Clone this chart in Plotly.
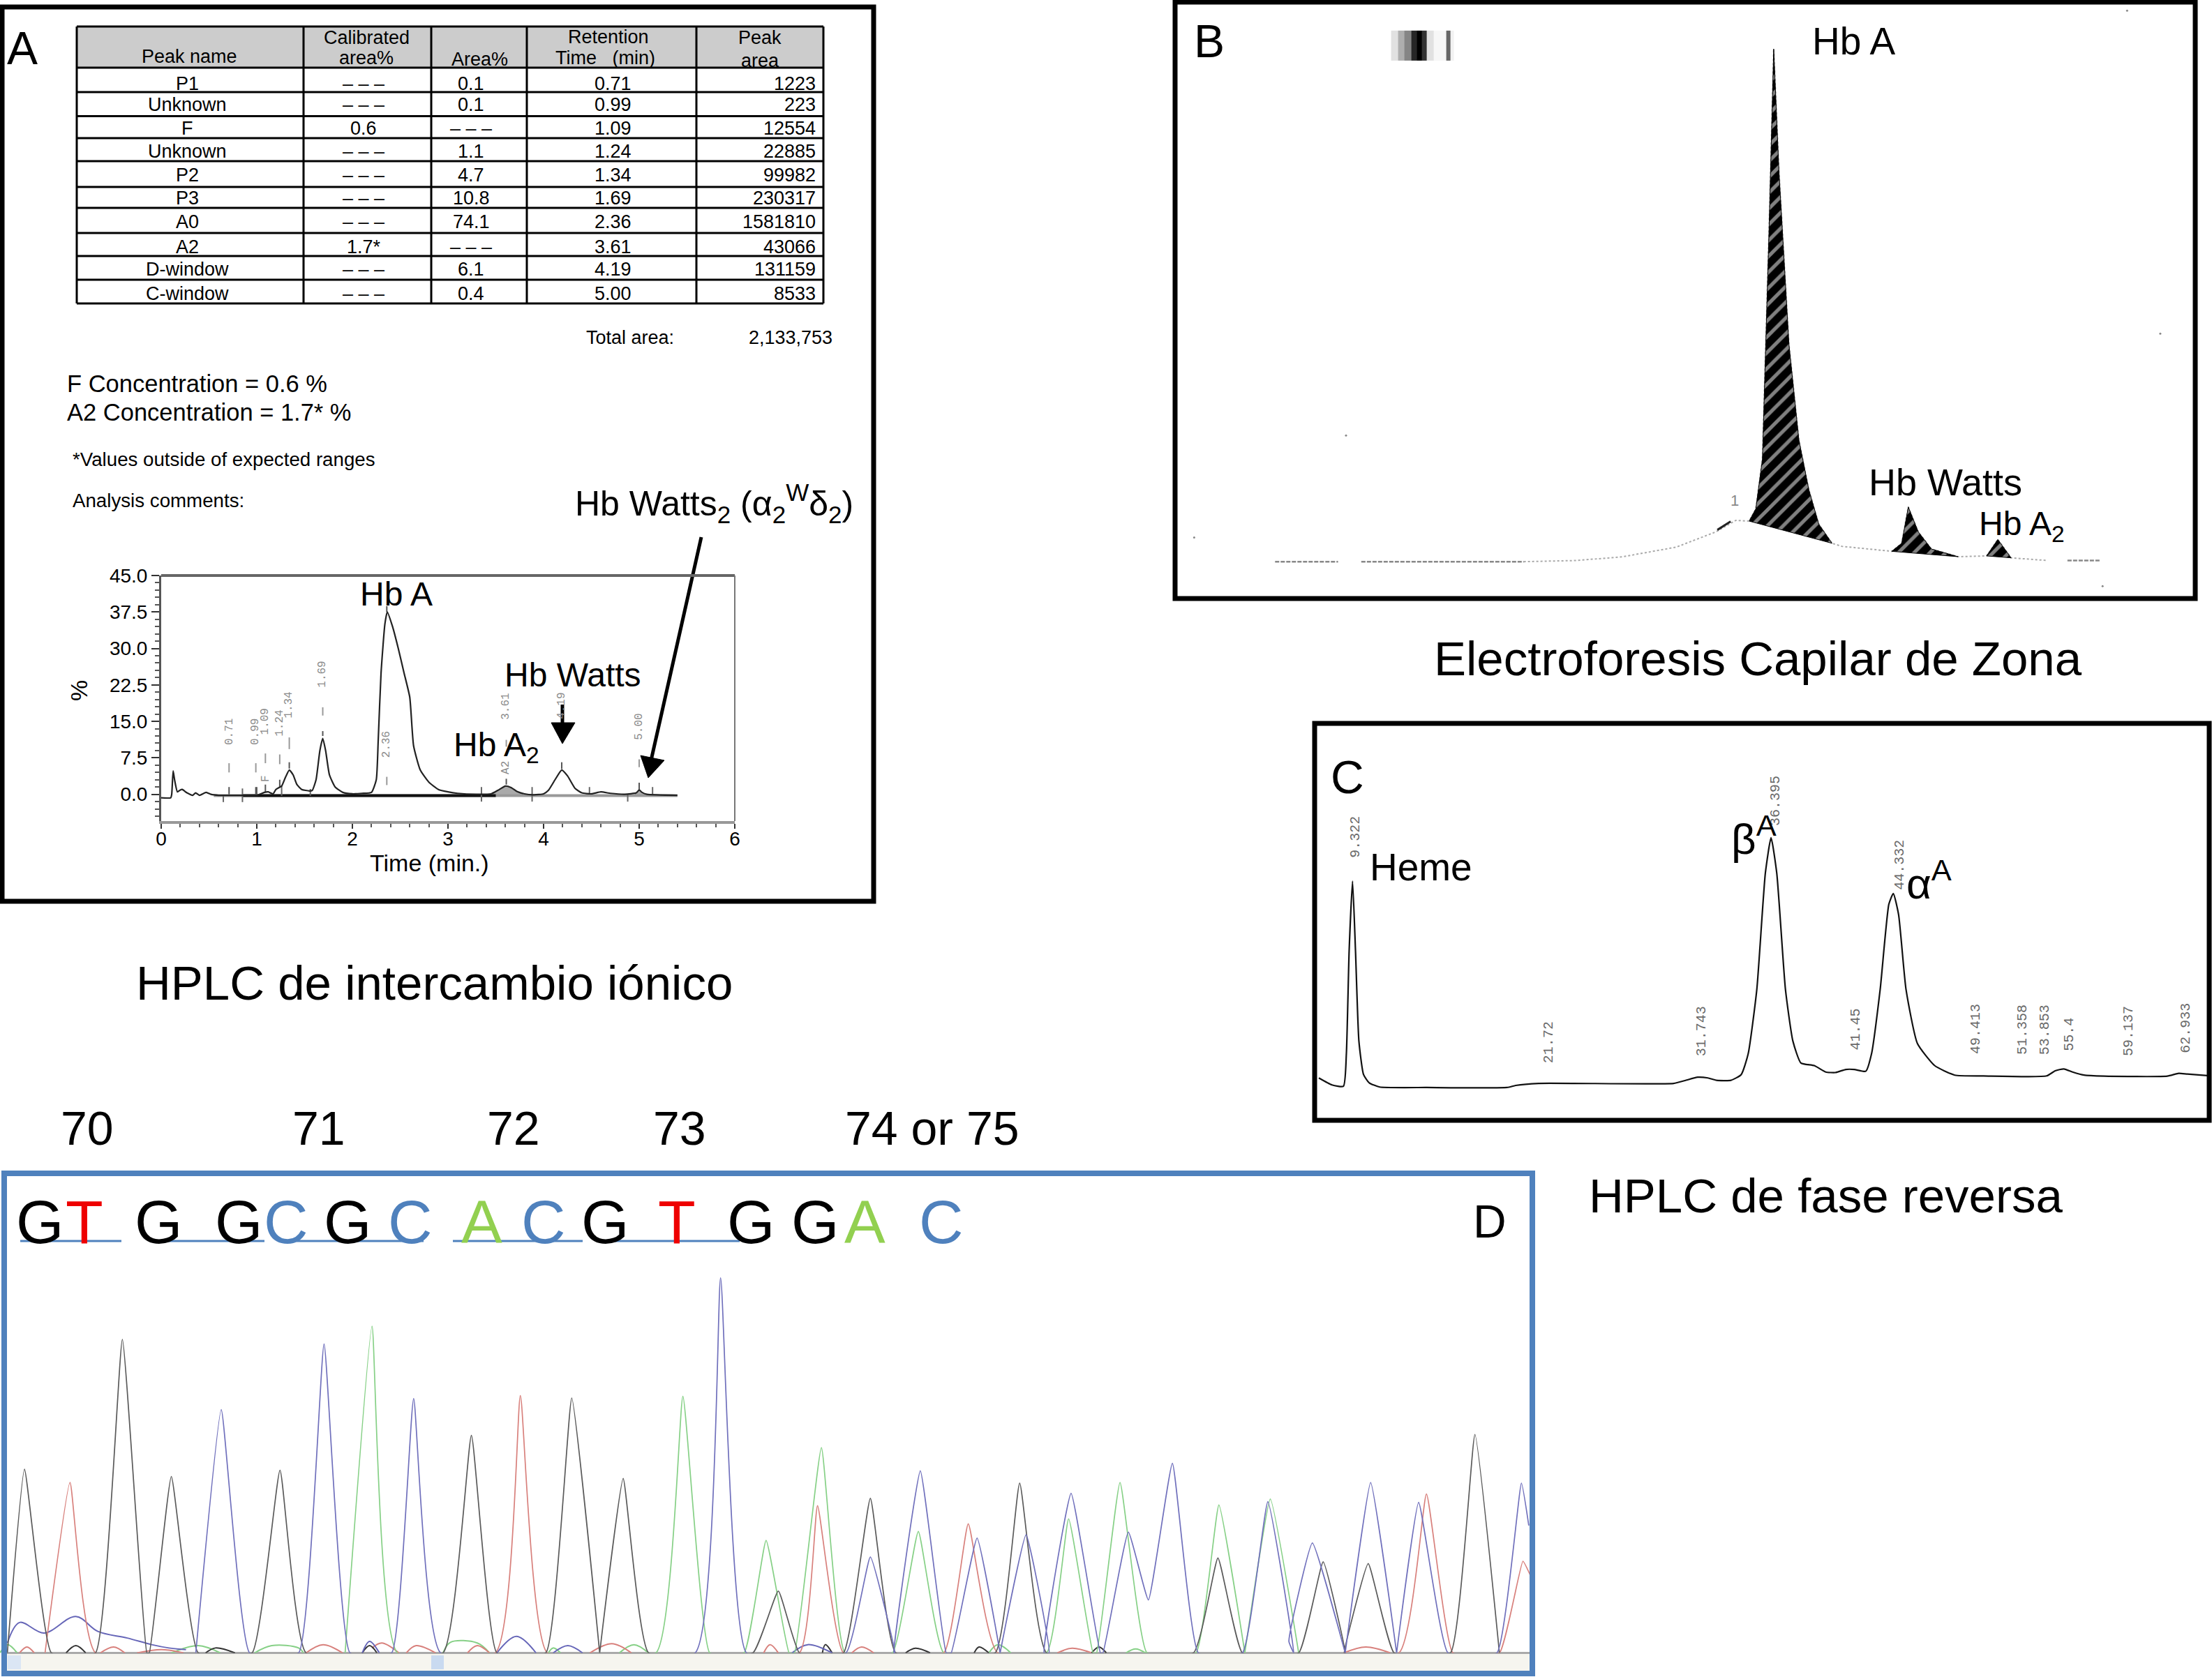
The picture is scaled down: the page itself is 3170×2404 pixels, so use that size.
import plotly.graph_objects as go

W, H = 3170, 2404
FONT = "Liberation Sans"
MONO = "Liberation Mono"
BLUE = "#4f81bd"

# ---------- Panel A: table ----------
peak_names = ["P1", "Unknown", "F", "Unknown", "P2", "P3", "A0", "A2", "D-window", "C-window"]
calibrated = ["– – –", "– – –", "0.6", "– – –", "– – –", "– – –", "– – –", "1.7*", "– – –", "– – –"]
area_pct = ["0.1", "0.1", "– – –", "1.1", "4.7", "10.8", "74.1", "– – –", "6.1", "0.4"]
retention = ["0.71", "0.99", "1.09", "1.24", "1.34", "1.69", "2.36", "3.61", "4.19", "5.00"]
peak_area = ["1223", "223", "12554", "22885", "99982", "230317", "1581810", "43066", "131159", "8533"]

# ---------- Panel A: chromatogram (minutes, %) ----------
a_time = [0, 0.1, 0.11, 0.125, 0.14, 0.17, 0.2, 0.22, 0.27, 0.33, 0.36, 0.4, 0.47, 0.52, 0.6, 0.8, 1.0, 1.08, 1.12,
          1.17, 1.2, 1.26, 1.3, 1.34, 1.38, 1.42, 1.47, 1.55, 1.58, 1.62, 1.66, 1.69, 1.72, 1.76, 1.82, 1.9, 2.0,
          2.1, 2.2, 2.25, 2.27, 2.30, 2.34, 2.365, 2.42, 2.48, 2.54, 2.6, 2.64, 2.71, 2.8, 2.9, 3.0, 3.1, 3.3, 3.45,
          3.52, 3.6, 3.66, 3.72, 3.8, 3.9, 4.0, 4.05, 4.12, 4.19, 4.25, 4.33, 4.4, 4.5, 4.6, 4.7, 4.85, 4.97, 5.0,
          5.03, 5.08, 5.4]
a_pct = [-0.7, -0.7, 0, 4.8, 3, 0.5, 0.9, 1, 0.3, -0.2, 0.3, -0.2, 0.4, 0, -0.2, -0.2, -0.2, 0.4, 0.5,
         0.1, 1, 1.7, 3.5, 5, 4, 2, 1, 0.7, 0.8, 3, 9, 11.5, 9, 4, 1.5, 0.4, 0.1,
         0.2, 0.4, 3, 11, 25, 35, 37.5, 34.5, 30, 25, 20, 10, 5, 2.5, 1, 0.5, 0.2, 0, 0.1,
         0.8, 1.7, 1.4, 0.6, 0.1, -0.1, 0.1, 0.8, 3, 5, 3.8, 1.2, 0.3, 0.1, 0.5, 0.2, 0, 0.3, 0.9,
         0.4, 0, -0.2]
a_fill_time = [3.45, 3.52, 3.6, 3.66, 3.72, 3.8, 3.45]
a_fill_pct = [-0.2, 0.8, 1.7, 1.4, 0.6, -0.2, -0.2]
a_fill2_time = [4.95, 5.0, 5.03, 5.08, 4.95]
a_fill2_pct = [-0.2, 0.9, 0.4, -0.2, -0.2]

a_label_text = ["0.71", "0.99", "1.09", "1.24", "1.34", "1.69", "2.36", "3.61", "4.19", "5.00", "F", "A2"]
a_label_time = [0.71, 0.99, 1.09, 1.24, 1.34, 1.69, 2.36, 3.61, 4.19, 5.00, 1.09, 3.61]
a_label_pct = [12.9, 12.8, 15.0, 14.6, 18.3, 24.6, 10.3, 18.0, 18.2, 13.9, 3.3, 5.5]
a_dash_time = [0.71, 0.99, 1.09, 1.24, 1.34, 1.69, 2.36, 3.61, 5.00]
a_dash_lo = [4.5, 4.5, 6.4, 6.2, 9.3, 16.2, 1.9, 9.8, 5.6]
a_dash_hi = [6.4, 6.4, 8.4, 8.2, 11.7, 17.9, 3.6, 11.2, 7.2]
a_apex_time = [0.71, 0.99, 1.09, 1.24, 1.34, 1.69, 2.36, 3.61, 4.19, 5.00]
a_apex_lo = [0, 0, 0.5, 1.5, 5.3, 12, 37.5, 2, 5.2, 1]
a_apex_hi = [1.5, 1.5, 2, 3, 6.6, 13, 38.7, 3.2, 6.6, 2.4]
a_bound_time = [0.65, 0.85, 1.0, 1.26, 1.56, 3.35, 3.88, 4.48, 4.88, 5.14]
a_bound_lo = [-1.6, -1.6, -0.2, -0.3, -0.3, -1.5, -1.5, 0, -1.5, 0]
a_bound_hi = [-0.2, 1.2, 1.5, 1.8, 1.1, 1.5, 1.5, 1.5, 0, 1.5]

# ---------- Panel B: capillary electropherogram ----------
b_pos = [530, 610, 680, 760, 820, 850, 870, 880, 890, 900, 907, 915, 930, 945, 960, 975, 995, 1010, 1080,
         1085, 1100, 1110, 1125, 1145, 1185, 1225, 1228, 1245, 1265, 1320]
b_sig = [100, 103, 113, 138, 178, 208, 206, 238, 368, 968, 1440, 1118, 668, 418, 288, 198, 148, 140, 128,
         127, 148, 243, 178, 133, 113, 115, 115, 158, 110, 103]
b_hba_pos = [870, 880, 890, 900, 907, 915, 930, 945, 960, 975, 995, 870]
b_hba_sig = [206, 238, 368, 968, 1440, 1118, 668, 418, 288, 198, 148, 206]
b_watts_pos = [1085, 1100, 1110, 1125, 1145, 1185, 1085]
b_watts_sig = [127, 148, 243, 178, 133, 113, 127]
b_a2_pos = [1228, 1245, 1265, 1228]
b_a2_sig = [115, 158, 110, 115]
b_base_pos = [155, 250, None, 285, 530, None, 1350, 1400]
b_base_sig = [100, 100, None, 100, 100, None, 103, 103]
b_band_pos = [335, 345, 355, 365, 372, 380, 388, 400, 410, 416, 422]
b_band_val = [0.12, 0.32, 0.48, 0.85, 1.0, 0.8, 0.12, 0.03, 0.03, 0.6, 0.05]
b_band_sig = [1410, 1449, 1488]
b_speck_pos = [1440, 1490, 262, 33, 1403]
b_speck_sig = [1540, 696, 430, 163, 36]

# ---------- Panel C: reverse-phase HPLC (retention time, signal) ----------
c_time = [7.17, 8.02, 8.76, 8.95, 9.13, 9.35, 9.54, 9.76, 10.06, 10.43, 11.10, 14.14, 19.33, 19.89, 21.37, 30.09,
          30.83, 31.65, 32.31, 32.87, 33.80, 34.46, 34.91, 35.47, 36.02, 36.39, 36.76, 37.32, 37.80, 38.32, 39.18,
          39.92, 40.55, 41.22, 41.77, 42.51, 42.88, 43.44, 44.0, 44.29, 44.63, 45.11, 45.85, 46.96, 48.26, 50.12,
          54.2, 54.75, 55.31, 55.87, 56.61, 57.91, 61.99, 62.73, 63.28, 64.58]
c_sig = [175, 148, 143, 268, 668, 938, 668, 318, 188, 156, 140, 138, 138, 146, 154, 154,
         165, 178, 175, 166, 166, 188, 268, 518, 968, 1106, 968, 518, 318, 233, 223,
         198, 196, 208, 208, 201, 268, 518, 848, 890, 808, 518, 308, 223, 186, 183,
         183, 203, 210, 198, 186, 182, 182, 193, 190, 184]
c_label_text = ["9.322", "21.72", "31.743", "36.395", "41.45", "44.332", "49.413", "51.358", "53.853", "55.4", "59.137", "62.933"]
c_label_time = [9.50, 22.00, 31.87, 36.69, 41.88, 44.70, 49.64, 52.64, 54.09, 55.68, 59.50, 63.21]
c_label_sig = [1108, 313, 356, 1248, 363, 1002, 365, 361, 361, 344, 356, 368]

# ---------- Panel D: sequencing trace (scan position, signal) ----------
g_x = [15, 50, 105, 195, 250, 300, 305, 350, 405, 515, 572, 625, 905, 963, 1015, 1115, 1168, 1225, 1225, 1273, 1325,
       1538, 1590, 1633, 1723, 1778, 1830, 2033, 2083, 2138, 2438, 2488, 2538, 2653, 2703, 2748, 2746, 2795, 2848,
       2963, 3013, 3063]
g_y = [0, 555, 0, 0, 947, 0, 0, 533, 0, 0, 552, 0, 0, 657, 0, 0, 770, 0, 0, 527, 0,
       0, 187, 0, 0, 467, 0, 0, 513, 0, 0, 287, 0, 0, 275, 0, 0, 270, 0,
       0, 660, 0]
t_x = [92, 143, 195, 1012, 1063, 1118, 1633, 1670, 1723, 1928, 1978, 2038, 2858, 2914, 2968, 3063, 3111, 3126]
t_y = [0, 515, 0, 0, 777, 0, 0, 445, 0, 0, 390, 0, 0, 480, 0, 0, 277, 235]
c_x = [400, 452, 510, 610, 662, 715, 800, 845, 900, 1420, 1472, 1525, 1728, 1778, 1828, 1826, 1880, 1933, 1943, 1996,
       2043, 2043, 2096, 2143, 2133, 2188, 2248, 2253, 2305, 2346, 2395, 2448, 2538, 2590, 2643, 2633, 2681, 2748,
       2748, 2800, 2853, 2853, 2898, 2958, 3058, 3108, 3123]
c_y = [0, 735, 0, 0, 933, 0, 0, 768, 0, 0, 1133, 0, 0, 290, 0, 0, 550, 0, 0, 347,
       0, 0, 357, 0, 0, 482, 0, 0, 365, 160, 573, 0, 0, 457, 0, 35, 332, 0,
       0, 515, 0, 0, 455, 0, 0, 513, 385]
a_x = [705, 760, 812, 1340, 1395, 1450, 1520, 1565, 1612, 1623, 1678, 1726, 1823, 1876, 1928, 2138, 2183, 2233,
       2240, 2288, 2343, 2443, 2490, 2543, 2543, 2595, 2653]
a_y = [0, 987, 0, 0, 775, 0, 0, 340, 0, 0, 620, 0, 0, 367, 0, 0, 405, 0,
       0, 515, 0, 0, 447, 0, 0, 465, 0]
low_blue_x = [15, 40, 90, 155, 200, 260, 310, 345, 380, None, 740, 755, 775, None, 1015, 1055, 1095, None, 1130, 1160, 1190, None, 1618, 1650, 1700]
low_blue_y = [30, 92, 60, 110, 65, 45, 25, 15, 10, None, 0, 35, 0, None, 0, 50, 0, None, 0, 22, 0, None, 0, 25, 0]
low_green_x = [0, 15, 35, None, 350, 405, 450, None, 520, 555, 610, 620, None, 905, 920, 975, 1000, None, 1120, 1130, 1145, None, 1265, 1295, 1325, None, 2020, 2038, 2065, None, 2300, 2320, 2340]
low_green_y = [0, 25, 0, None, 0, 22, 0, None, 0, 22, 15, 0, None, 0, 32, 30, 0, None, 0, 15, 0, None, 0, 25, 0, None, 0, 25, 0, None, 0, 12, 0]
low_red_x = [40, 55, 70, None, 205, 232, 255, None, 280, 330, 375, None, 625, 660, 700, None, 760, 780, 815, None, 830, 850, 890, None, 955, 975, 1000, None, 1205, 1250, 1290, None, 1560, 1573, 1590, None, 1740, 1760, 1785, None, 2160, 2190, 2230, None, 2745, 2790, 2840]
low_red_y = [0, 18, 0, None, 0, 18, 0, None, 0, 10, 0, None, 0, 25, 0, None, 15, 30, 0, None, 0, 22, 0, None, 0, 22, 0, None, 0, 28, 0, None, 0, 25, 0, None, 0, 18, 0, None, 0, 14, 0, None, 0, 18, 0]
low_black_x = [135, 155, 175, None, 420, 440, 480, None, 740, 755, 770, None, 1680, 1686, 1700, None, 1850, 1870, 1900, None, 1990, 2000, 2020, None, 2230, 2245, 2260]
low_black_y = [0, 22, 0, None, 0, 15, 0, None, 0, 22, 0, None, 0, 25, 0, None, 0, 14, 0, None, 0, 18, 0, None, 0, 18, 0]

seq_letters = ["G", "T", "G", "G", "C", "G", "C", "A", "C", "G", "T", "G", "G", "A", "C"]
seq_x_px = [57, 121, 227, 342, 410, 498, 588, 690, 779, 867, 970, 1076, 1168, 1239, 1349]
seq_colors = {"G": "black", "T": "#ee0000", "C": "#4f81bd", "A": "#92d050"}
codon_labels = ["70", "71", "72", "73", "74 or 75"]
codon_x_px = [125, 457, 736, 974, 1336]
underline_from = [29, 235, 425, 649, 876]
underline_to = [174, 379, 607, 835, 1060]


def px(x):
    return x / W


def py(y):
    return 1 - y / H


annotations = []
shapes = []


def T(text, x, y, size, color="black", anchor="center", angle=0, font=FONT):
    annotations.append(dict(text=text, x=px(x), y=py(y), xref="paper", yref="paper", showarrow=False,
                            xanchor=anchor, yanchor="middle", textangle=angle,
                            font=dict(family=font, size=size, color=color)))


def AX(text, x, y, xref, yref, size, color, font=MONO):
    annotations.append(dict(text=text, x=x, y=y, xref=xref, yref=yref, showarrow=False, textangle=-90,
                            xanchor="center", yanchor="middle", font=dict(family=font, size=size, color=color)))


def rect(x0, y0, x1, y1, line=None, width=0, fill=None):
    shapes.append(dict(type="rect", xref="paper", yref="paper", x0=px(x0), x1=px(x1), y0=py(y0), y1=py(y1),
                       line=dict(color=line or "rgba(0,0,0,0)", width=width),
                       fillcolor=fill or "rgba(0,0,0,0)", layer="above" if fill is None else "below"))


def seg(x0, y0, x1, y1, color="black", width=3, layer="above"):
    shapes.append(dict(type="line", xref="paper", yref="paper", x0=px(x0), x1=px(x1), y0=py(y0), y1=py(y1),
                       line=dict(color=color, width=width), layer=layer))


def tri(p, color="black"):
    path = "M " + " L ".join(f"{px(a):.5f},{py(b):.5f}" for a, b in p) + " Z"
    shapes.append(dict(type="path", xref="paper", yref="paper", path=path, fillcolor=color,
                       line=dict(color=color, width=1), layer="above"))


def dom_x(a, b):
    return [a / W, b / W]


def dom_y(a, b):
    return [1 - b / H, 1 - a / H]


fig = go.Figure()


def line(x, y, ax, color="black", width=2, shape="linear", dash="solid", smooth=None):
    ln = dict(color=color, width=width, shape=shape, dash=dash)
    if smooth is not None:
        ln["smoothing"] = smooth
    fig.add_trace(go.Scatter(x=x, y=y, xaxis=f"x{ax}", yaxis=f"y{ax}", mode="lines", line=ln,
                             hoverinfo="skip", showlegend=False, connectgaps=False))


def stems(xs, lo, hi, ax, color, width):
    x, y = [], []
    for a, b, c in zip(xs, lo, hi):
        x += [a, a, None]
        y += [b, c, None]
    line(x, y, ax, color, width)


# Panel A fills and traces
for fx, fy in [(a_fill_time, a_fill_pct), (a_fill2_time, a_fill2_pct)]:
    fig.add_trace(go.Scatter(x=fx, y=fy, xaxis="x1", yaxis="y1", mode="lines", fill="toself",
                             fillcolor="#aaaaaa", line=dict(color="#666666", width=1),
                             hoverinfo="skip", showlegend=False))
line([0.55, 5.4], [-0.25, -0.25], 1, "#999999", 4)
line([0.85, 3.5], [-0.25, -0.25], 1, "#111111", 4)
stems(a_bound_time, a_bound_lo, a_bound_hi, 1, "#666666", 2)
stems(a_dash_time, a_dash_lo, a_dash_hi, 1, "#999999", 2)
stems(a_apex_time, a_apex_lo, a_apex_hi, 1, "#555555", 2)
line(a_time, a_pct, 1, "#222222", 2.2, "spline", smooth=0.5)
for t, x, y in zip(a_label_text, a_label_time, a_label_pct):
    AX(t, x, y, "x1", "y1", 16, "#8a8a8a")

# Panel B traces
fig.add_trace(go.Heatmap(x=b_band_pos, y=b_band_sig, z=[b_band_val, b_band_val], xaxis="x2", yaxis="y2",
                         colorscale=[[0, "#ffffff"], [0.5, "#808080"], [1, "#000000"]], zmin=0, zmax=1,
                         showscale=False, hoverinfo="skip"))
line(b_pos, b_sig, 2, "#aaaaaa", 2, dash="dot")
line(b_base_pos, b_base_sig, 2, "#888888", 2.5, dash="6px,2px")
for fx, fy in [(b_hba_pos, b_hba_sig), (b_watts_pos, b_watts_sig), (b_a2_pos, b_a2_sig)]:
    fig.add_trace(go.Scatter(x=fx, y=fy, xaxis="x2", yaxis="y2", mode="lines", fill="toself",
                             fillcolor="black",
                             fillpattern=dict(shape="/", bgcolor="black", fgcolor="white", size=16, solidity=0.32),
                             line=dict(color="black", width=1), hoverinfo="skip", showlegend=False))
fig.add_trace(go.Scatter(x=b_speck_pos, y=b_speck_sig, xaxis="x2", yaxis="y2", mode="markers",
                         marker=dict(size=3, color="#888888"), hoverinfo="skip", showlegend=False))
line([822, 842], [183, 205], 2, "#222222", 3)

# Panel C traces
line(c_time, c_sig, 3, "#111111", 2.2, "spline", smooth=0.5)
for t, x, y in zip(c_label_text, c_label_time, c_label_sig):
    AX(t, x, y, "x3", "y3", 20, "#6a6a6a")

# Panel D traces
D_COL = {"g": "#5a5a5a", "t": "#d8807c", "c": "#7070bc", "a": "#86d086"}
SM = 0.35
line(low_green_x, low_green_y, 4, D_COL["a"], 2, "spline", smooth=1)
line(low_red_x, low_red_y, 4, D_COL["t"], 2, "spline", smooth=1)
line(low_black_x, low_black_y, 4, "#333333", 2, "spline", smooth=1)
line(low_blue_x, low_blue_y, 4, "#6666b8", 2, "spline", smooth=1)
line(a_x, a_y, 4, D_COL["a"], 1.7, "spline", smooth=SM)
line(t_x, t_y, 4, D_COL["t"], 1.7, "spline", smooth=SM)
line(g_x, g_y, 4, D_COL["g"], 1.7, "spline", smooth=SM)
line(c_x, c_y, 4, D_COL["c"], 1.7, "spline", smooth=SM)

# Panel frames
rect(3, 10, 1252, 1292, "black", 7)
rect(1684, 3, 3146, 858, "black", 7)
rect(1884, 1037, 3166, 1606, "black", 7)
rect(6, 1682, 2196, 2399, BLUE, 8)

# Table
rect(110, 38, 1180, 97, fill="#cccccc")
for xv in [110, 435, 618, 755, 998, 1180]:
    seg(xv, 38, xv, 435, "black", 3)
for yv in [38, 97, 132, 166.5, 198, 231, 268, 298, 334, 367, 401, 435]:
    seg(110, yv, 1180, yv, "black", 3)
TS = 27
T("Peak name", 271, 81, TS)
T("Calibrated", 525, 54, TS)
T("area%", 525, 83, TS)
T("Area%", 687, 85, TS)
T("Retention", 872, 53, TS)
T("Time   (min)", 868, 83, TS)
T("Peak", 1089, 54, TS)
T("area", 1089, 87, TS)
row_y = [120, 150, 184, 217, 251, 284, 318, 354, 386, 421]
for i, yv in enumerate(row_y):
    T(peak_names[i], 268, yv, TS)
    T(calibrated[i], 521, yv, TS)
    T(area_pct[i], 675, yv, TS)
    T(retention[i], 878, yv, TS)
    T(peak_area[i], 1171, yv, TS, anchor="right")
T("Total area:", 838, 484, TS, anchor="left")
T("2,133,753", 1133, 484, TS)
T("F Concentration = 0.6 %", 94, 550, 34.5, anchor="left")
T("A2 Concentration = 1.7* %", 94, 591, 34.5, anchor="left")
T("*Values outside of expected ranges", 102, 658, 27.7, anchor="left")
T("Analysis comments:", 102, 718, 27.7, anchor="left")

# Panel letters and captions
T("A", 32, 69, 66)
T("B", 1733, 59, 66)
T("C", 1931, 1114, 66)
T("D", 2135, 1751, 66)
T("HPLC de intercambio iónico", 622, 1409, 69)
T("Electroforesis Capilar de Zona", 2519, 944, 69)
T("HPLC de fase reversa", 2616, 1714, 69)

# Panel A labels
T("Hb Watts<sub>2</sub> (α<sub>2</sub><sup>W</sup>δ<sub>2</sub>)", 1023, 722, 50)
T("Hb A", 568, 851, 48)
T("Hb Watts", 821, 968, 48)
T("Hb A<sub>2</sub>", 711, 1071, 48)
T("Time (min.)", 615, 1237, 34)
T("%", 113, 990, 34, angle=-90)
seg(1005, 770, 933, 1090, "black", 5)
tri([(918, 1083), (952, 1090), (929, 1115)])
seg(806, 1010, 806, 1040, "black", 5)
tri([(790, 1036), (824, 1036), (806, 1066)])

# Panel B labels
T("Hb A", 2657, 59, 55)
T("Hb Watts", 2788, 691, 54)
T("Hb A<sub>2</sub>", 2897, 754, 48)
T("1", 2486, 718, 22, color="#888888")

# Panel C labels
T("Heme", 2036, 1243, 55)
T("β<sup>A</sup>", 2513, 1198, 62)
T("α<sup>A</sup>", 2764, 1262, 62)

# Panel D text
for ch, xv in zip(seq_letters, seq_x_px):
    T(ch, xv, 1751, 88, color=seq_colors[ch])
for ch, xv in zip(codon_labels, codon_x_px):
    T(ch, xv, 1617, 68)
for a, b in zip(underline_from, underline_to):
    seg(a, 1779, b, 1779, BLUE, 3)
rect(10, 2371, 2192, 2395, fill="#f6f5ef")
rect(618, 2373, 636, 2393, fill="#c9daf0")
rect(11, 2373, 30, 2393, fill="#dbe6f4")
seg(10, 2369.5, 2192, 2369.5, "#aaaaaa", 3, layer="below")

# Top and right edges of the Panel A plot box
seg(231, 825, 1053, 825, "#666666", 4)
seg(1053, 825, 1053, 1177, "#777777", 2)

fig.update_layout(
    width=W, height=H, margin=dict(l=0, r=0, t=0, b=0, autoexpand=False), paper_bgcolor="white", plot_bgcolor="white",
    showlegend=False, annotations=annotations, shapes=shapes,
    xaxis=dict(domain=dom_x(231, 1053), anchor="y", range=[0, 6], dtick=1, tick0=0, ticks="outside", ticklen=7,
               tickwidth=2, tickcolor="#333333", showgrid=False, zeroline=False, showline=True, linecolor="#999999",
               linewidth=4, mirror=False, tickfont=dict(family=FONT, size=28, color="black"), ticklabelstandoff=-10,
               minor=dict(dtick=0.2, ticks="outside", ticklen=5, tickwidth=2, tickcolor="#555555", showgrid=False)),
    yaxis=dict(domain=dom_y(825, 1177), anchor="x", range=[-5.5, 45], tickvals=[0, 7.5, 15, 22.5, 30, 37.5, 45],
               ticktext=["0.0", "7.5", "15.0", "22.5", "30.0", "37.5", "45.0"], ticks="outside", ticklen=11,
               tickwidth=2, tickcolor="#333333", showgrid=False, zeroline=False, showline=True, linecolor="#555555",
               linewidth=3, tickfont=dict(family=FONT, size=28, color="black"),
               minor=dict(tick0=0, dtick=1.5, ticks="outside", ticklen=6, tickwidth=2, tickcolor="#555555", showgrid=False)),
    xaxis2=dict(domain=dom_x(1680, 3170), anchor="y2", range=[0, 1568], visible=False),
    yaxis2=dict(domain=dom_y(0, 860), anchor="x2", range=[0, 1568], visible=False),
    xaxis3=dict(domain=dom_x(1880, 3170), anchor="y3", range=[6.72, 64.88], visible=False),
    yaxis3=dict(domain=dom_y(1030, 1610), anchor="x3", range=[0, 1568], visible=False),
    xaxis4=dict(domain=dom_x(0, 2200), anchor="y4", range=[0, 3136], visible=False),
    yaxis4=dict(domain=dom_y(1705, 2369.5), anchor="x4", range=[0, 1400], visible=False),
)

fig.write_html("out.html", config={"displayModeBar": False},
               post_script="document.body.style.margin='0';document.body.style.overflow='hidden';")
